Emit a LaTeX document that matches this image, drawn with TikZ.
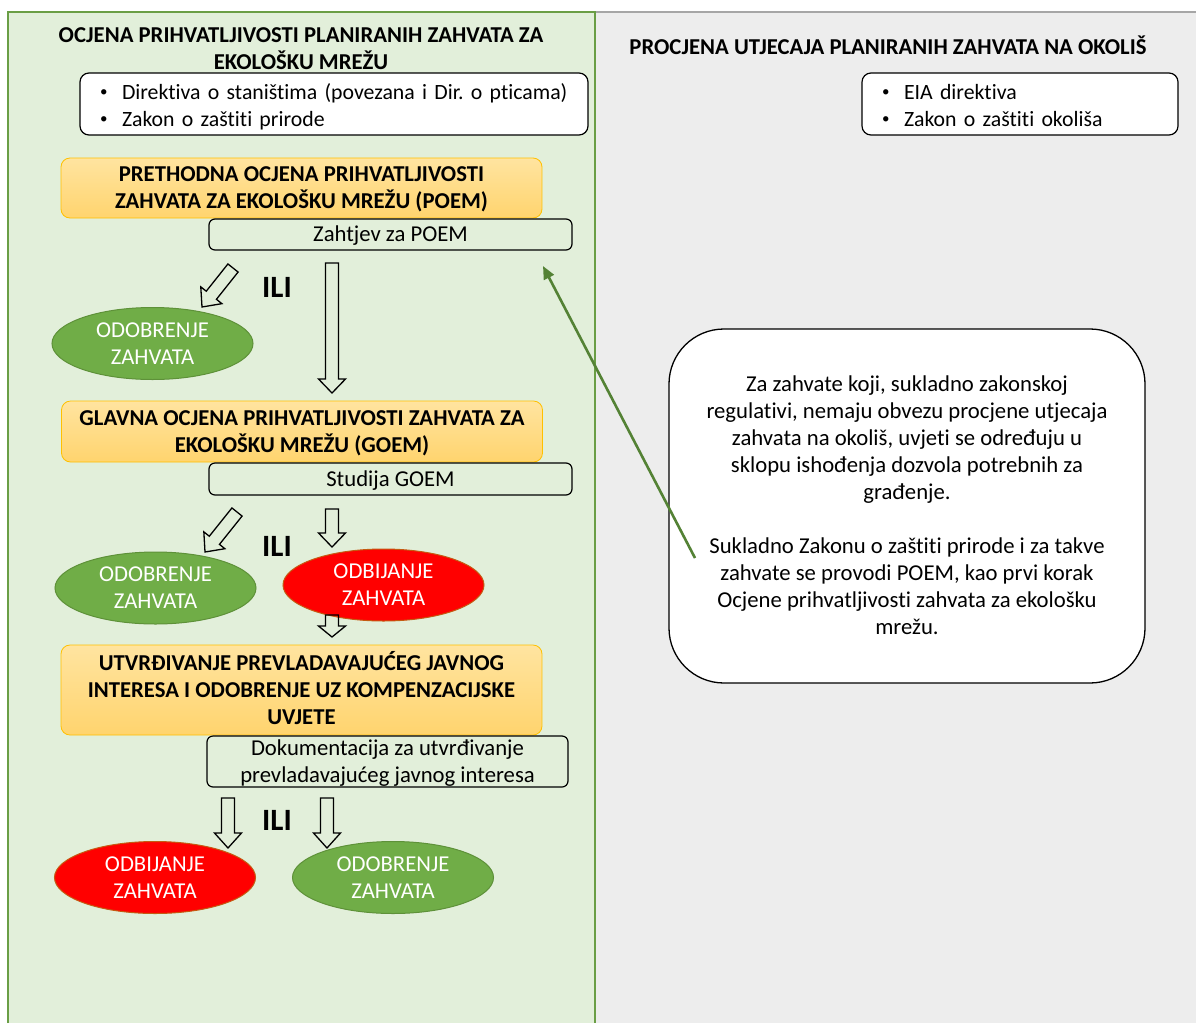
\documentclass[tikz,border=0pt]{standalone}
\usepackage{fontspec}
\setmainfont{Carlito}[Ligatures=NoCommon]
\usetikzlibrary{shapes.geometric,arrows.meta}
\frenchspacing

\definecolor{panelgreen}{HTML}{E2EFDA}
\definecolor{panelborder}{HTML}{6A9E45}
\definecolor{panelgrey}{HTML}{EDEDED}
\definecolor{greyline}{HTML}{A6A6A6}
\definecolor{okgreen}{HTML}{70AD47}
\definecolor{okgreenb}{HTML}{5E9139}
\definecolor{nored}{HTML}{FF0000}
\definecolor{noredb}{HTML}{C55A11}
\definecolor{orangetop}{HTML}{FFE4A0}
\definecolor{orangebot}{HTML}{FFD46E}
\definecolor{orangeb}{HTML}{FFC000}
\definecolor{arrowgreen}{HTML}{548235}

\newcommand\bodysize{\fontsize{22.7}{27}\selectfont}
\newcommand\listsize{\fontsize{21.8}{27}\selectfont}
\newcommand\smallbullet{\makebox[22pt][l]{\raisebox{2.6pt}{\fontsize{15}{15}\selectfont\textbullet}}}

\tikzset{
  bodyfont/.style={font=\bodysize},
  oneline/.style={text height=14pt, text depth=0pt},
  twolines/.style={text height=41pt, text depth=0pt},
  threelines/.style={text height=68pt, text depth=0pt},
  titletext/.style={align=center, inner sep=0, font=\bfseries\bodysize},
  bulletbox/.style={rectangle, rounded corners=9, draw=black, fill=white, line width=1.2,
    minimum height=62, inner xsep=20, inner ysep=0, align=left, font=\listsize,
    text height=14pt, text depth=24pt},
  stagebox/.style={rectangle, rounded corners=9, draw=orangeb, line width=0.8,
    top color=orangetop, bottom color=orangebot, minimum width=481, inner sep=0,
    align=center, font=\bfseries\bodysize},
  docbox/.style={rectangle, rounded corners=6, draw=black, line width=1.2,
    minimum width=363, inner sep=0, align=center, bodyfont},
  okell/.style={ellipse, fill=okgreen, draw=okgreenb, line width=1, minimum width=201,
    minimum height=72, inner sep=0, align=center, text=white, bodyfont, twolines},
  noell/.style={okell, fill=nored, draw=noredb},
  ilitext/.style={inner sep=0, font=\bfseries\fontsize{31}{36}\selectfont},
  notebox/.style={rectangle, rounded corners=55, draw=black, fill=white, line width=1.3,
    minimum width=476, minimum height=354, inner sep=0, align=center, bodyfont,
    text height=257pt, text depth=0pt},
  hollow/.style={draw=black, line width=1.3, line join=miter},
  greenarrow/.style={draw=arrowgreen, line width=2.6, -{Triangle[length=13pt,width=11pt]}},
}

\newcommand\hollowarrow[3]{%
  \path (#1); \pgfgetlastxy{\hax}{\hay}%
  \path (#2); \pgfgetlastxy{\hbx}{\hby}%
  \pgfmathsetmacro\hang{atan2(\hby-\hay,\hbx-\hax)}%
  \pgfmathsetmacro\hlen{veclen(\hbx-\hax,\hby-\hay)}%
  \pgfmathsetmacro\hneck{\hlen-#3}%
  \draw[hollow, shift={(\hax,\hay)}, rotate=\hang]
    (0,-6.5) -- (\hneck,-6.5) -- (\hneck,-13.5) -- (\hlen,0) -- (\hneck,13.5)
    -- (\hneck,6.5) -- (0,6.5) -- cycle;%
}

\begin{document}
\begin{tikzpicture}[x=1pt,y=-1pt]
\useasboundingbox (0,0) rectangle (1196,1023);
% panels
\fill[white] (0,0) rectangle (1196,1023);
\fill[panelgrey] (595,12) rectangle (1196,1023);
\draw[greyline, line width=1.5] (595,12) -- (1196,12);
\fill[panelgreen] (8,12) rectangle (595,1023);
\draw[panelborder, line width=1.5] (8,1023) -- (8,12) -- (595,12) -- (595,1023);

% titles
\node[titletext, twolines] (ltitle) at (301,48.5) {OCJENA PRIHVATLJIVOSTI PLANIRANIH ZAHVATA ZA\\EKOLOŠKU MREŽU};
\node[titletext, oneline] (rtitle) at (888,47) {PROCJENA UTJECAJA PLANIRANIH ZAHVATA NA OKOLIŠ};

% legal bases
\node[bulletbox, minimum width=508, text width=468] (lbase) at (334,104)
  {\mbox{\smallbullet Direktiva o staništima (povezana i Dir. o pticama)}\\
   \mbox{\smallbullet Zakon o zaštiti prirode}};
\node[bulletbox, minimum width=316, text width=276] (rbase) at (1020,104)
  {\mbox{\smallbullet EIA direktiva}\\
   \mbox{\smallbullet Zakon o zaštiti okoliša}};

% stage 1
\node[stagebox, twolines, minimum height=60] (poem) at (301.5,188)
  {PRETHODNA OCJENA PRIHVATLJIVOSTI\\ZAHVATA ZA EKOLOŠKU MREŽU (POEM)};
\node[docbox, oneline, minimum height=31] (zahtjev) at (390.5,234.5) {Zahtjev za POEM};
\node[okell] (ok1) at (152.5,343.5) {ODOBRENJE\\ZAHVATA};
\node[ilitext] (ili1) at (277,287) {ILI};

% stage 2
\node[stagebox, twolines, minimum height=61] (goem) at (302,431.5)
  {GLAVNA OCJENA PRIHVATLJIVOSTI ZAHVATA ZA\\EKOLOŠKU MREŽU (GOEM)};
\node[docbox, oneline, minimum height=32] (studija) at (390.5,479) {Studija GOEM};
\node[okell] (ok2) at (155.5,588) {ODOBRENJE\\ZAHVATA};
\node[noell] (no1) at (383.5,585) {ODBIJANJE\\ZAHVATA};
\node[ilitext] (ili2) at (277,546) {ILI};

% stage 3
\node[stagebox, threelines, minimum height=90] (pji) at (301.5,690)
  {UTVRĐIVANJE PREVLADAVAJUĆEG JAVNOG\\INTERESA I ODOBRENJE UZ KOMPENZACIJSKE\\UVJETE};
\node[docbox, twolines, minimum width=361, minimum height=51] (dok) at (387.5,761.5)
  {Dokumentacija za utvrđivanje\\prevladavajućeg javnog interesa};
\node[noell] (no2) at (155,877.5) {ODBIJANJE\\ZAHVATA};
\node[okell] (ok3) at (393,877.5) {ODOBRENJE\\ZAHVATA};
\node[ilitext] (ili3) at (277,820) {ILI};

% note
\node[notebox] (note) at (907,506)
  {Za zahvate koji, sukladno zakonskoj\\
   regulativi, nemaju obvezu procjene utjecaja\\
   zahvata na okoliš, uvjeti se određuju u\\
   sklopu ishođenja dozvola potrebnih za\\
   građenje.\\[27pt]
   Sukladno Zakonu o zaštiti prirode i za takve\\
   zahvate se provodi POEM, kao prvi korak\\
   Ocjene prihvatljivosti zahvata za ekološku\\
   mrežu.};

% hollow arrow end points
\coordinate (a1s) at (233,268); \coordinate (a1e) at (202,307);
\coordinate (a2s) at (332,263); \coordinate (a2e) at (332,393);
\coordinate (a3s) at (237,512); \coordinate (a3e) at (205,552);
\coordinate (a4s) at (332,509); \coordinate (a4e) at (332,547);
\coordinate (a5s) at (332,615); \coordinate (a5e) at (332,637);
\coordinate (a6s) at (228,798); \coordinate (a6e) at (228,848);
\coordinate (a7s) at (327,798); \coordinate (a7e) at (327,848);

\hollowarrow{a1s}{a1e}{15}
\hollowarrow{a2s}{a2e}{14}
\hollowarrow{a3s}{a3e}{15}
\hollowarrow{a4s}{a4e}{14}
\hollowarrow{a5s}{a5e}{11}
\hollowarrow{a6s}{a6e}{15}
\hollowarrow{a7s}{a7e}{15}

% green arrow from note to POEM request
\coordinate (gtail) at (695,558);
\coordinate (gtip) at (543,266);
\draw[greenarrow] (gtail) -- (gtip);
\end{tikzpicture}
\end{document}
